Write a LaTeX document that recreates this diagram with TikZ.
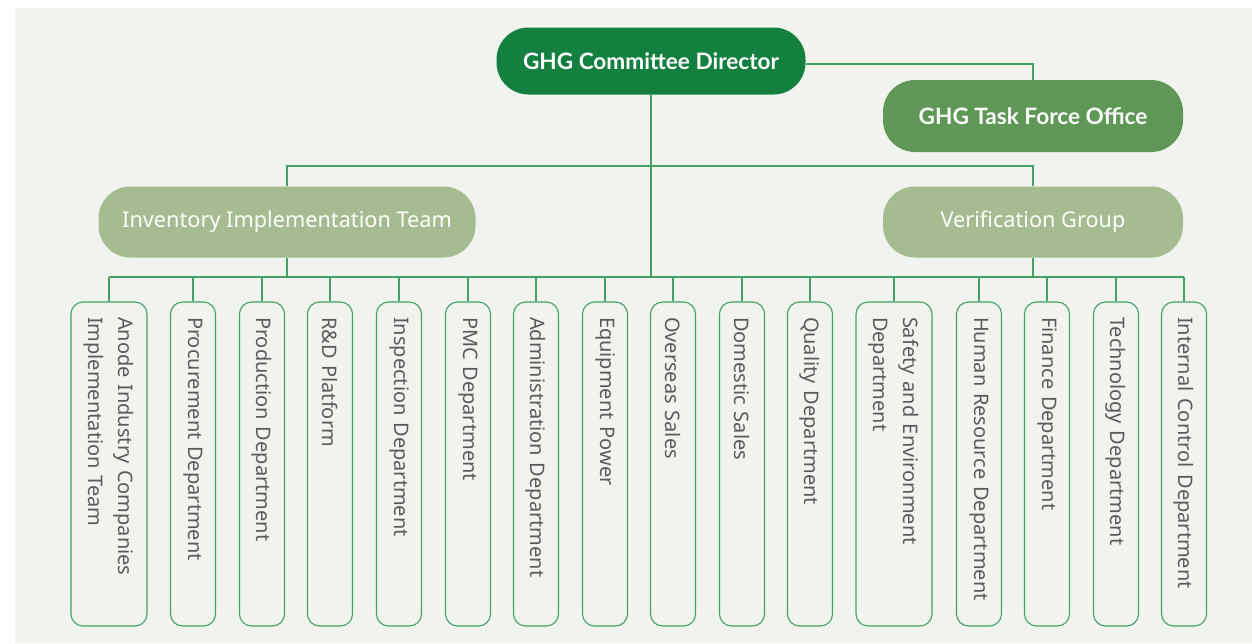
\documentclass[tikz,border=0pt]{standalone}
\usepackage{fontspec}
\setmainfont{Noto Sans}
\newfontfamily\headfont{Lato}
\usetikzlibrary{positioning}
\definecolor{bgc}{HTML}{F1F3EE}
\definecolor{dgreen}{HTML}{13803F}
\definecolor{mgreen}{HTML}{5F9757}
\definecolor{lgreen}{HTML}{A4BC8F}
\definecolor{linec}{HTML}{45A065}
\definecolor{txtc}{HTML}{5A5A5A}
\tikzset{
  pill/.style={
    rounded corners=32pt, align=center, text=white, inner sep=0pt,
    minimum height=70pt
  },
  head/.style={pill, font=\headfont\fontsize{22.6}{26}\selectfont\bfseries},
  team/.style={pill, fill=lgreen, minimum height=71pt,
    font=\fontsize{21.7}{26}\selectfont},
  dept/.style={
    draw=linec, line width=1.1pt, rounded corners=12pt, rotate=-90,
    font=\fontsize{20}{30}\selectfont, text=txtc, align=left,
    text width=294pt, inner xsep=15pt, inner ysep=0pt, minimum height=45pt
  },
  dept2/.style={dept, minimum height=76pt},
  link/.style={draw=linec, line width=1.1pt}
}
\begin{document}
\begin{tikzpicture}[x=1pt, y=-1pt]
  \useasboundingbox (0,0) rectangle (1252,643);
  \fill[bgc] (15,8) rectangle (1252,643);

  \node[head, fill=dgreen, minimum width=309pt, minimum height=67pt] (dir) at (651,61) {GHG Committee Director};
  \node[head, fill=mgreen, minimum width=300pt, minimum height=72pt] (tfo) at (1033,116) {GHG Task Force Office};
  \node[team, minimum width=377pt] (inv) at (287,222) {Inventory Implementation Team};
  \node[team, minimum width=300pt] (ver) at (1033,222) {Verification Group};

  \coordinate (top) at (651,166);
  \coordinate (bus) at (651,277);

  \node[dept2] (d1) at (109,464) {Anode Industry Companies\\Implementation Team};
  \node[dept] (d2) at (193,464) {Procurement Department};
  \node[dept] (d3) at (262,464) {Production Department};
  \node[dept] (d4) at (330,464) {R\&D Platform};
  \node[dept] (d5) at (399,464) {Inspection Department};
  \node[dept] (d6) at (468,464) {PMC Department};
  \node[dept] (d7) at (536,464) {Administration Department};
  \node[dept] (d8) at (605,464) {Equipment Power};
  \node[dept] (d9) at (673,464) {Overseas Sales};
  \node[dept] (d10) at (742,464) {Domestic Sales};
  \node[dept] (d11) at (810,464) {Quality Department};
  \node[dept2] (d12) at (894,464) {Safety and Environment\\Department};
  \node[dept] (d13) at (979,464) {Human Resource Department};
  \node[dept] (d14) at (1047,464) {Finance Department};
  \node[dept] (d15) at (1116,464) {Technology Department};
  \node[dept] (d16) at (1184,464) {Internal Control Department};

  % tree links
  \draw[link] ([yshift=-3pt]dir.east) -| (tfo.north);
  \draw[link] (dir.south) -- (bus);
  \draw[link] (inv.north) |- (top) -| (ver.north);
  \draw[link] (inv.south) -- (inv.south |- bus);
  \draw[link] (ver.south) -- (ver.south |- bus);
  \draw[link] (d1.west |- bus) -- (d16.west |- bus);
  \foreach \d in {d1,d2,d3,d4,d5,d6,d7,d8,d9,d10,d11,d12,d13,d14,d15,d16}
    \draw[link] (\d.west |- bus) -- (\d.west);
\end{tikzpicture}
\end{document}
